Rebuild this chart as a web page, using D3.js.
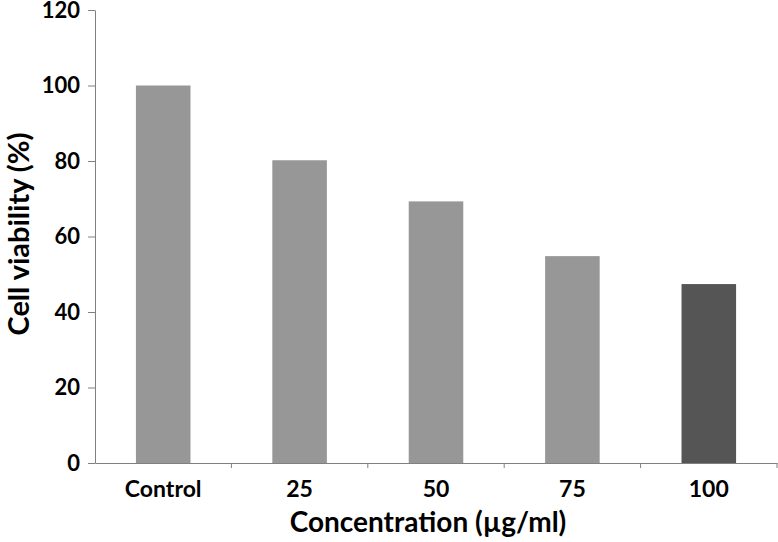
<!DOCTYPE html>
<html>
<head>
<meta charset="utf-8">
<script src="https://cdn.jsdelivr.net/npm/d3@7"></script>
<style>
  body { margin: 0; background: #fff; }
  text { font-family: Lato, "Open Sans", sans-serif; font-weight: bold; fill: #000; }
</style>
</head>
<body>
<div id="chart"></div>
<script>
// data
const categories = ["Control", "25", "50", "75", "100"];
const viability = [100, 80.2, 69.3, 54.8, 47.4];
const barColors = ["#979797", "#979797", "#979797", "#979797", "#555555"];
const yTicks = [0, 20, 40, 60, 80, 100, 120];

const W = 778, H = 542;
const margin = {top: 10, right: 1, bottom: 79, left: 95};
const width = W - margin.left - margin.right;
const height = H - margin.top - margin.bottom;

const svg = d3.select("#chart").append("svg")
    .attr("width", W)
    .attr("height", H)
  .append("g")
    .attr("transform", "translate(" + margin.left + "," + margin.top + ")");

const x = d3.scaleBand()
    .domain(categories)
    .range([0, width])
    .paddingInner(0.6)
    .paddingOuter(0.3);

const y = d3.scaleLinear()
    .domain([0, 120])
    .range([height, 0]);

// bars
svg.selectAll("rect.bar")
    .data(categories)
  .enter().append("rect")
    .attr("class", "bar")
    .attr("x", d => x(d))
    .attr("y", (d, i) => y(viability[i]))
    .attr("width", x.bandwidth())
    .attr("height", (d, i) => height - y(viability[i]))
    .attr("fill", (d, i) => barColors[i]);

// y axis
const yAxis = svg.append("g")
    .call(d3.axisLeft(y).tickValues(yTicks).tickSize(7).tickSizeOuter(0));
yAxis.select(".domain").attr("stroke", "#808080");
yAxis.selectAll(".tick line").attr("stroke", "#808080");
yAxis.selectAll(".tick text")
    .attr("x", -15)
    .style("font-size", "22px");

// x axis: labels centred in bands, ticks on band edges
const xAxis = svg.append("g")
    .attr("transform", "translate(0," + height + ")")
    .call(d3.axisBottom(x).tickSize(0).tickSizeOuter(0));
xAxis.select(".domain").attr("stroke", "#808080");
xAxis.selectAll(".tick text")
    .attr("y", 34)
    .attr("dy", 0)
    .style("font-size", "23px");

const step = x.step();
const edges = d3.range(1, categories.length + 1).map(i => x(categories[0]) - x.paddingOuter() * step + i * step);
svg.selectAll("line.xtick")
    .data(edges)
  .enter().append("line")
    .attr("class", "xtick")
    .attr("x1", d => d).attr("x2", d => d)
    .attr("y1", height).attr("y2", height + 5)
    .attr("stroke", "#808080");

// axis titles
svg.append("text")
    .attr("x", width / 2 - 8)
    .attr("y", height + 69)
    .attr("text-anchor", "middle")
    .style("font-size", "28px")
    .text("Concentration (µg/ml)");

svg.append("text")
    .attr("transform", "rotate(-90)")
    .attr("x", -(234 - margin.top))
    .attr("y", -66)
    .attr("text-anchor", "middle")
    .style("font-size", "29px")
    .text("Cell viability (%)");
</script>
</body>
</html>
